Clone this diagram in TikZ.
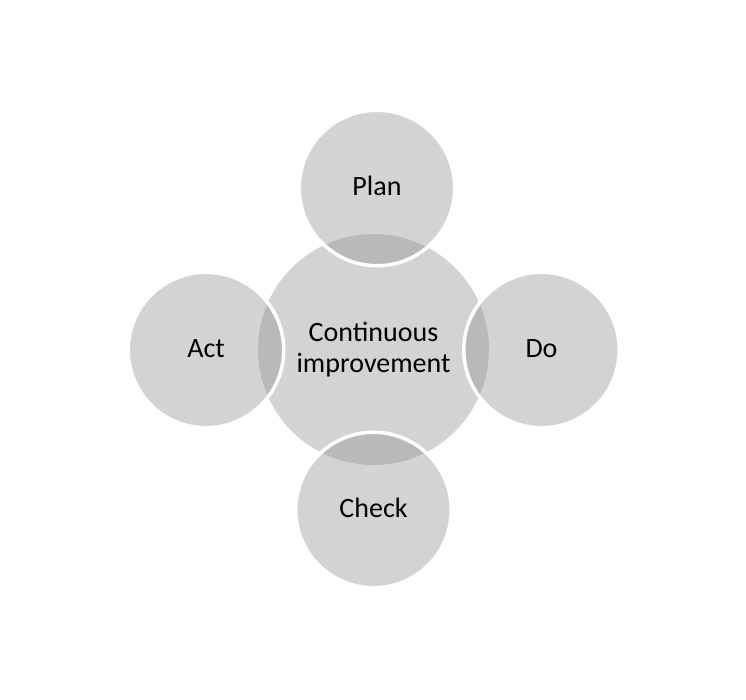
\documentclass[tikz,border=0pt]{standalone}
\usepackage{fontspec}
\setmainfont{Carlito}
\usepackage{tikz}
\usetikzlibrary{shapes,calc,positioning}
\tikzset{>=latex}
\usepackage{xcolor}

\definecolor{hubgray}{gray}{0.827}
\definecolor{phasegray}{gray}{0.6}

\tikzset{
  hub/.style={circle, fill=hubgray, inner sep=0pt, minimum size=231pt,
    align=center, font=\fontsize{28pt}{30.5pt}\selectfont},
  phase/.style={circle, fill=phasegray, fill opacity=0.43, text opacity=1,
    draw=white, draw opacity=1, line width=3.5pt, inner sep=0pt,
    minimum size=155.5pt, text height=19pt, text depth=5pt,
    font=\fontsize{28pt}{30.5pt}\selectfont}
}

\begin{document}
\begin{tikzpicture}[x=1pt, y=-1pt]
          \useasboundingbox (0,0) rectangle (746,699);

          % centre of the cycle
          \node[hub] (hub) at (373.5,349.5) {Continuous\\improvement};

          % the four steps round it
          \foreach \pos/\name/\txt in {{(377,188)}/plan/Plan, {(541.5,350)}/do/Do,
                                       {(373.5,510)}/check/Check, {(206,350)}/act/Act}
            {
              \node[phase] (\name) at \pos {\txt};
            }
        \end{tikzpicture}
\end{document}
